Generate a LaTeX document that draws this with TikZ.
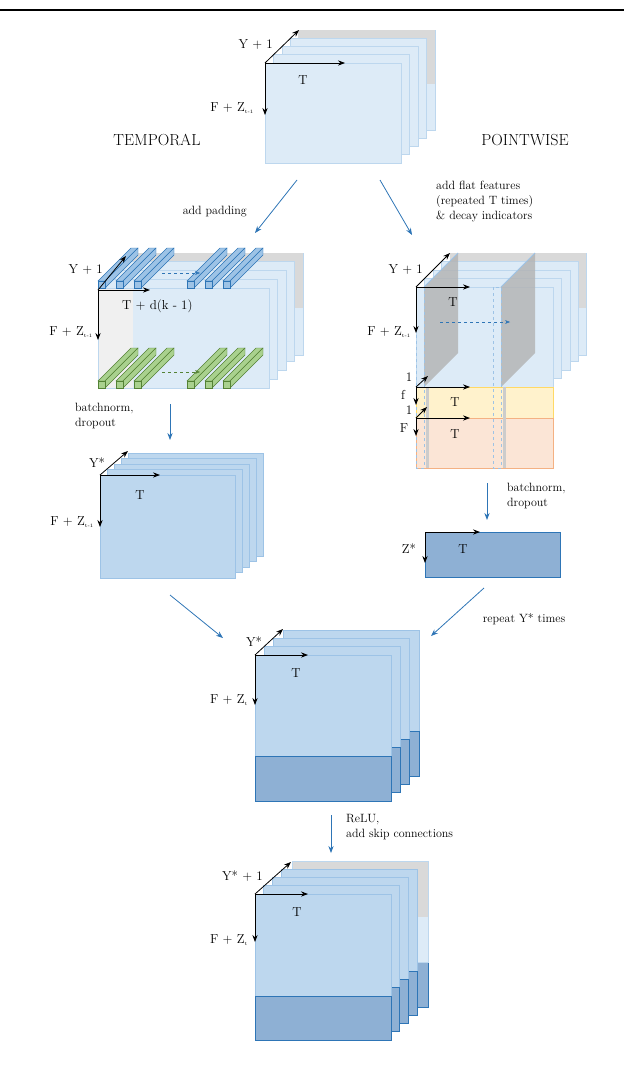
\documentclass[tikz,border=0pt]{standalone}
\usepackage{tikz}
\usetikzlibrary{positioning}
\usetikzlibrary{arrows.meta}
\definecolor{lightfill}{HTML}{DDEBF7}
\definecolor{lightline}{HTML}{BDD7EE}
\definecolor{midfill}{HTML}{BDD7EE}
\definecolor{midline}{HTML}{9DC3E6}
\definecolor{darkfill}{HTML}{8EB0D4}
\definecolor{darkline}{HTML}{2E75B6}
\definecolor{padgray}{HTML}{D9D9D9}
\definecolor{arrowblue}{HTML}{2E75B6}
\definecolor{yellowfill}{HTML}{FFF2CC}
\definecolor{yellowline}{HTML}{FFD966}
\definecolor{orangefill}{HTML}{FBE5D6}
\definecolor{orangeline}{HTML}{F4B183}
\definecolor{greenfill}{HTML}{A9D18E}
\definecolor{greenline}{HTML}{548235}

\begin{document}
\begin{tikzpicture}[x=1pt, y=-1pt,
            lbl/.style={inner sep=1pt, font=\fontsize{13}{15}\selectfont},
            title/.style={font=\fontsize{16}{18}\selectfont},
            note/.style={align=left, inner sep=1pt, font=\fontsize{12}{15}\selectfont},
            axis/.style={-{Stealth[length=7pt]}, thick},
            flow/.style={-{Stealth[length=7pt]}, thick, arrowblue},
            lightlayer/.style={fill=lightfill, draw=lightline, thick},
            midlayer/.style={fill=midfill, draw=midline, thick},
            darklayer/.style={fill=darkfill, draw=darkline, thick},
            bluebar/.style={fill=midline, draw=darkline, thin},
            greenbar/.style={fill=greenfill, draw=greenline, thin},
            ]
            \useasboundingbox (0,0) rectangle (624,1068);
            \draw[line width=2pt] (0,10) -- (624,10);

            % top input
            \fill[lightfill] (298,30) rectangle (435,130);
            \draw[lightline, thick] (298,30) rectangle (435,130);
            \fill[padgray] (298,30) rectangle (435,84);
            \foreach \i in {3,2,1,0}
                \draw[lightlayer] (265+8.5*\i,63-8.25*\i) rectangle ++(136,100);
            \coordinate (O1) at (265,63);
            \draw[axis] (O1) -- (299,30);
            \draw[axis] (O1) -- (345,63);
            \draw[axis] (O1) -- (265,115);
            \node[lbl, anchor=east] at (274,45) {Y + 1};
            \node[lbl] at (303,80) {T};
            \node[lbl, anchor=east] at (255,108) {F + Z\textsubscript{\tiny t-1}};
            \node[title] (temporal) at (157,140) {TEMPORAL};
            \node[title] (pointwise) at (525,140) {POINTWISE};

            \draw[flow] (297,180) -- (255,233);
            \node[note, anchor=east] at (248,212) {add padding};
            \draw[flow] (380,180) -- (412,235);
            \node[note, anchor=north west] at (435,180) {add flat features\\(repeated T times)\\\& decay indicators};

            % temporal padded
            \fill[lightfill] (133,253) rectangle (303,355);
            \draw[lightline, thick] (133,253) rectangle (303,355);
            \fill[padgray] (133,253) rectangle (303,308);
            \foreach \i in {3,2,1}
                \draw[lightlayer] (98+8.5*\i,288-8.75*\i) rectangle ++(171,100);
            \fill[lightfill] (98,288) rectangle (269,388);
            \fill[gray!12] (98,288) rectangle (133,388);
            \draw[lightline, thick] (98,288) rectangle (269,388);
            \foreach \x in {98,116,134,187,205,223} {
                \draw[bluebar] (\x,281) -- (\x+33,248) -- (\x+40,248) -- (\x+7,281) -- cycle;
                \draw[bluebar] (\x+7,281) -- (\x+40,248) -- (\x+40,255) -- (\x+7,288) -- cycle;
                \draw[bluebar] (\x,281) rectangle (\x+7,288);
                \draw[greenbar] (\x,381) -- (\x+33,348) -- (\x+40,348) -- (\x+7,381) -- cycle;
                \draw[greenbar] (\x+7,381) -- (\x+40,348) -- (\x+40,355) -- (\x+7,388) -- cycle;
                \draw[greenbar] (\x,381) rectangle (\x+7,388);
            }
            \draw[arrowblue, dashed, -{Stealth[length=5pt]}] (162,273) -- (200,273);
            \draw[greenline, dashed, -{Stealth[length=5pt]}] (162,372) -- (200,372);
            \coordinate (O2) at (98,290);
            \draw[axis] (O2) -- (126,256);
            \draw[axis] (O2) -- (150,290);
            \draw[axis] (O2) -- (98,340);
            \node[lbl, anchor=east] at (104,270) {Y + 1};
            \node[lbl, anchor=west] at (121,306) {T + d(k - 1)};
            \node[lbl, anchor=east] at (94,332) {F + Z\textsubscript{\tiny t-1}};

            % pointwise
            \fill[lightfill] (450,253) rectangle (586,355);
            \draw[lightline, thick] (450,253) rectangle (586,355);
            \fill[padgray] (450,253) rectangle (586,308);
            \foreach \i in {3,2,1,0}
                \draw[lightlayer] (416+8.5*\i,287-8.5*\i) rectangle ++(137,100);
            \fill[yellowfill] (416,387) rectangle (553,418);
            \draw[yellowline] (416,387) rectangle (553,418);
            \fill[orangefill] (416,418) rectangle (553,468);
            \draw[orangeline] (416,418) rectangle (553,468);
            \foreach \x in {416,493} {
                \fill[gray!60, opacity=0.8] (\x+8,287) -- (\x+42,253) -- (\x+42,353) -- (\x+8,387) -- cycle;
                \draw[midline, thick] (\x+8,287) -- (\x+42,253);
                \draw[midline, dashed] (\x,287) rectangle (\x+8,468);
                \fill[gray!40] (\x+10,387) rectangle (\x+13,468);
            }
            \draw[arrowblue, dashed, -{Stealth[length=5pt]}] (440,322) -- (510,322);
            \coordinate (O3) at (416,287);
            \draw[axis] (O3) -- (450,253);
            \draw[axis] (O3) -- (470,287);
            \draw[axis] (O3) -- (416,333);
            \node[lbl, anchor=east] at (424,270) {Y + 1};
            \node[lbl] at (453,302) {T};
            \node[lbl, anchor=east] at (412,332) {F + Z\textsubscript{\tiny t-1}};
            \coordinate (O4) at (416,387);
            \draw[axis] (O4) -- (428,376);
            \draw[axis] (O4) -- (470,387);
            \draw[axis] (O4) -- (416,405);
            \node[lbl] at (409,377) {1};
            \node[lbl] at (403,395) {f};
            \node[lbl] at (455,402) {T};
            \coordinate (O5) at (416,418);
            \draw[axis] (O5) -- (427,407);
            \draw[axis] (O5) -- (470,418);
            \draw[axis] (O5) -- (416,436);
            \node[lbl] at (409,410) {1};
            \node[lbl] at (404,428) {F};
            \node[lbl] at (455,434) {T};

            % batchnorm
            \draw[flow] (170,404) -- (170,440);
            \node[note, anchor=north west] at (74,402) {batchnorm,\\dropout};
            \draw[flow] (487,483) -- (487,520);
            \node[note, anchor=north west] at (506,482) {batchnorm,\\dropout};

            \foreach \i in {4,3,2,1,0}
                \draw[midlayer] (100+7*\i,475-5.5*\i) rectangle ++(135,103);
            \coordinate (O6) at (100,475);
            \draw[axis] (O6) -- (128,451);
            \draw[axis] (O6) -- (160,475);
            \draw[axis] (O6) -- (100,527);
            \node[lbl] at (97,463) {Y*};
            \node[lbl] at (140,495) {T};
            \node[lbl, anchor=east] at (95,522) {F + Z\textsubscript{\tiny t-1}};

            \draw[darklayer] (425,532) rectangle (560,577);
            \coordinate (O7) at (425,532);
            \draw[axis] (O7) -- (480,532);
            \draw[axis] (O7) -- (425,563);
            \node[lbl] at (409,549) {Z*};
            \node[lbl] at (463,549) {T};

            \draw[flow] (170,595) -- (223,638);
            \draw[flow] (484,588) -- (431,636);
            \node[note] at (524,619) {repeat Y* times};

            % combined
            \foreach \i in {3,2,1,0} {
                \draw[midlayer] (255+9.3*\i,655-8.3*\i) rectangle ++(136,101);
                \draw[darklayer] (255+9.3*\i,756-8.3*\i) rectangle ++(136,45);
            }
            \coordinate (O8) at (255,655);
            \draw[axis] (O8) -- (283,629);
            \draw[axis] (O8) -- (308,655);
            \draw[axis] (O8) -- (255,705);
            \node[lbl] at (254,642) {Y*};
            \node[lbl] at (296,673) {T};
            \node[lbl, anchor=east] at (249,700) {F + Z\textsubscript{\tiny t}};

            \draw[flow] (331,815) -- (331,853);
            \node[note, anchor=north west] at (345,813) {ReLU,\\add skip connections};

            % output
            \fill[padgray] (292,861) rectangle (428,917);
            \fill[lightfill] (292,917) rectangle (428,962);
            \draw[darklayer] (292,962) rectangle (428,1007);
            \draw[lightline, thick] (292,861) rectangle (428,962);
            \foreach \i in {3,2,1,0} {
                \draw[midlayer] (255+8.8*\i,894-8.3*\i) rectangle ++(136,102);
                \draw[darklayer] (255+8.8*\i,996-8.3*\i) rectangle ++(136,44);
            }
            \coordinate (O9) at (255,894);
            \draw[axis] (O9) -- (291,862);
            \draw[axis] (O9) -- (308,894);
            \draw[axis] (O9) -- (255,942);
            \node[lbl, anchor=east] at (264,876) {Y* + 1};
            \node[lbl] at (297,912) {T};
            \node[lbl, anchor=east] at (249,940) {F + Z\textsubscript{\tiny t}};
        \end{tikzpicture}
\end{document}
